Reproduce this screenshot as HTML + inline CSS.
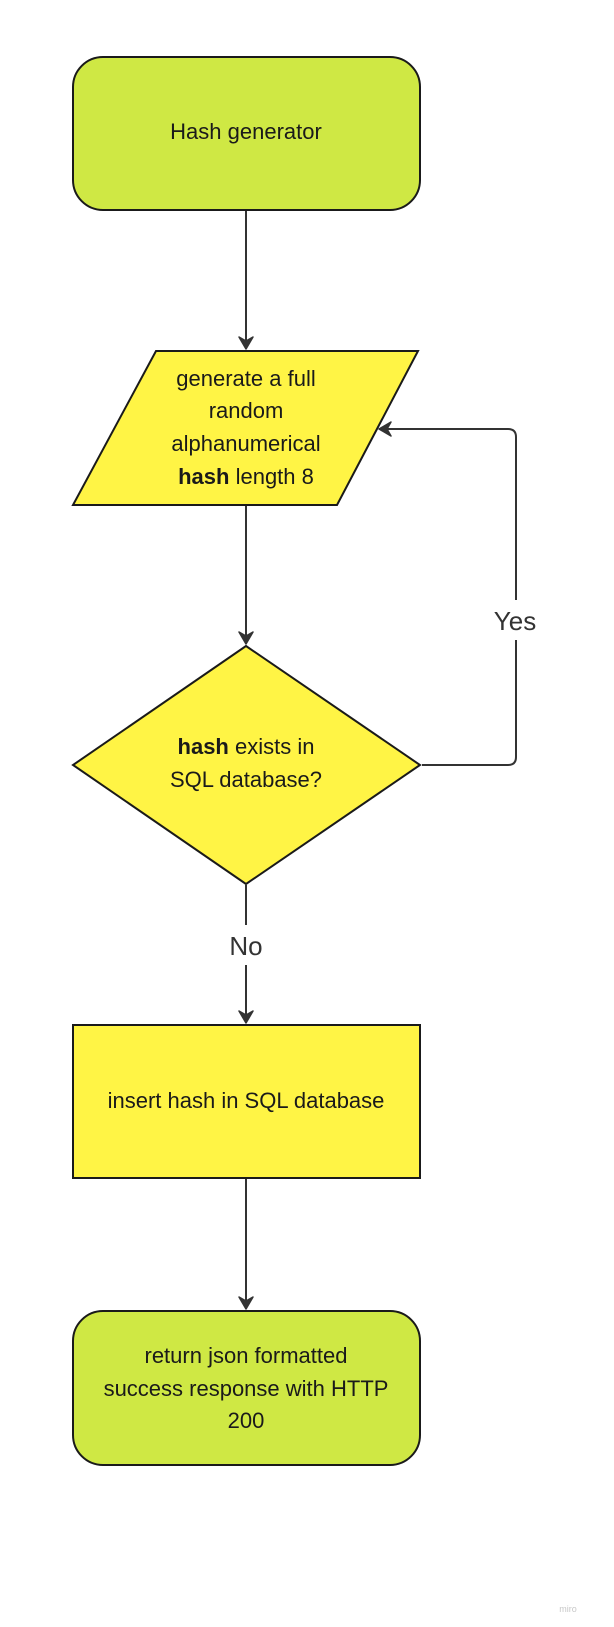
<!DOCTYPE html>
<html><head><meta charset="utf-8"><style>
html,body{margin:0;padding:0;background:#fff;}
svg{display:block;}
text{font-family:"Liberation Sans","DejaVu Sans",sans-serif;fill:#1a1a1a;}
</style></head><body>
<svg width="614" height="1627" viewBox="0 0 614 1627" xmlns="http://www.w3.org/2000/svg">
<defs>
<marker id="a" markerWidth="18" markerHeight="18" refX="14" refY="9" orient="auto" markerUnits="userSpaceOnUse">
<path d="M2,2 L14,9 L2,16 L6,9 Z" fill="#333" stroke="#333" stroke-width="1.5" stroke-linejoin="round"/>
</marker>
</defs>
<g stroke="#333" stroke-width="2" fill="none">
<line x1="246" y1="211" x2="246" y2="349" marker-end="url(#a)"/>
<line x1="246" y1="506" x2="246" y2="644" marker-end="url(#a)"/>
<line x1="246" y1="885" x2="246" y2="1023" marker-end="url(#a)"/>
<line x1="246" y1="1179" x2="246" y2="1309" marker-end="url(#a)"/>
<path d="M422,765 H508 Q516,765 516,757 V437 Q516,429 508,429 H379" marker-end="url(#a)"/>
</g>
<rect x="73" y="57" width="347" height="153" rx="30" fill="#cfe844" stroke="#1a1a1a" stroke-width="2"/>
<text x="246" y="139" font-size="22" text-anchor="middle">Hash generator</text>
<polygon points="156,351 418,351 337,505 73,505" fill="#fff445" stroke="#1a1a1a" stroke-width="2"/>
<g font-size="22" text-anchor="middle">
<text x="246" y="386">generate a full</text>
<text x="246" y="418">random</text>
<text x="246" y="451">alphanumerical</text>
<text x="246" y="484"><tspan font-weight="bold">hash</tspan> length 8</text>
</g>
<polygon points="246,646 420,765 246,884 73,765" fill="#fff445" stroke="#1a1a1a" stroke-width="2"/>
<g font-size="22" text-anchor="middle">
<text x="246" y="754"><tspan font-weight="bold">hash</tspan> exists in</text>
<text x="246" y="787">SQL database?</text>
</g>
<rect x="490" y="600" width="52" height="40" fill="#fff"/>
<text x="515" y="630" font-size="26" text-anchor="middle" style="fill:#333">Yes</text>
<rect x="222" y="925" width="48" height="40" fill="#fff"/>
<text x="246" y="955" font-size="26" text-anchor="middle" style="fill:#333">No</text>
<rect x="73" y="1025" width="347" height="153" fill="#fff445" stroke="#1a1a1a" stroke-width="2"/>
<text x="246" y="1108" font-size="22" text-anchor="middle">insert hash in SQL database</text>
<rect x="73" y="1311" width="347" height="154" rx="30" fill="#cfe844" stroke="#1a1a1a" stroke-width="2"/>
<g font-size="22" text-anchor="middle">
<text x="246" y="1363">return json formatted</text>
<text x="246" y="1396">success response with HTTP</text>
<text x="246" y="1428">200</text>
</g>
<text x="568" y="1612" font-size="9" text-anchor="middle" style="fill:#c8c8c8">miro</text>
</svg>
</body></html>
